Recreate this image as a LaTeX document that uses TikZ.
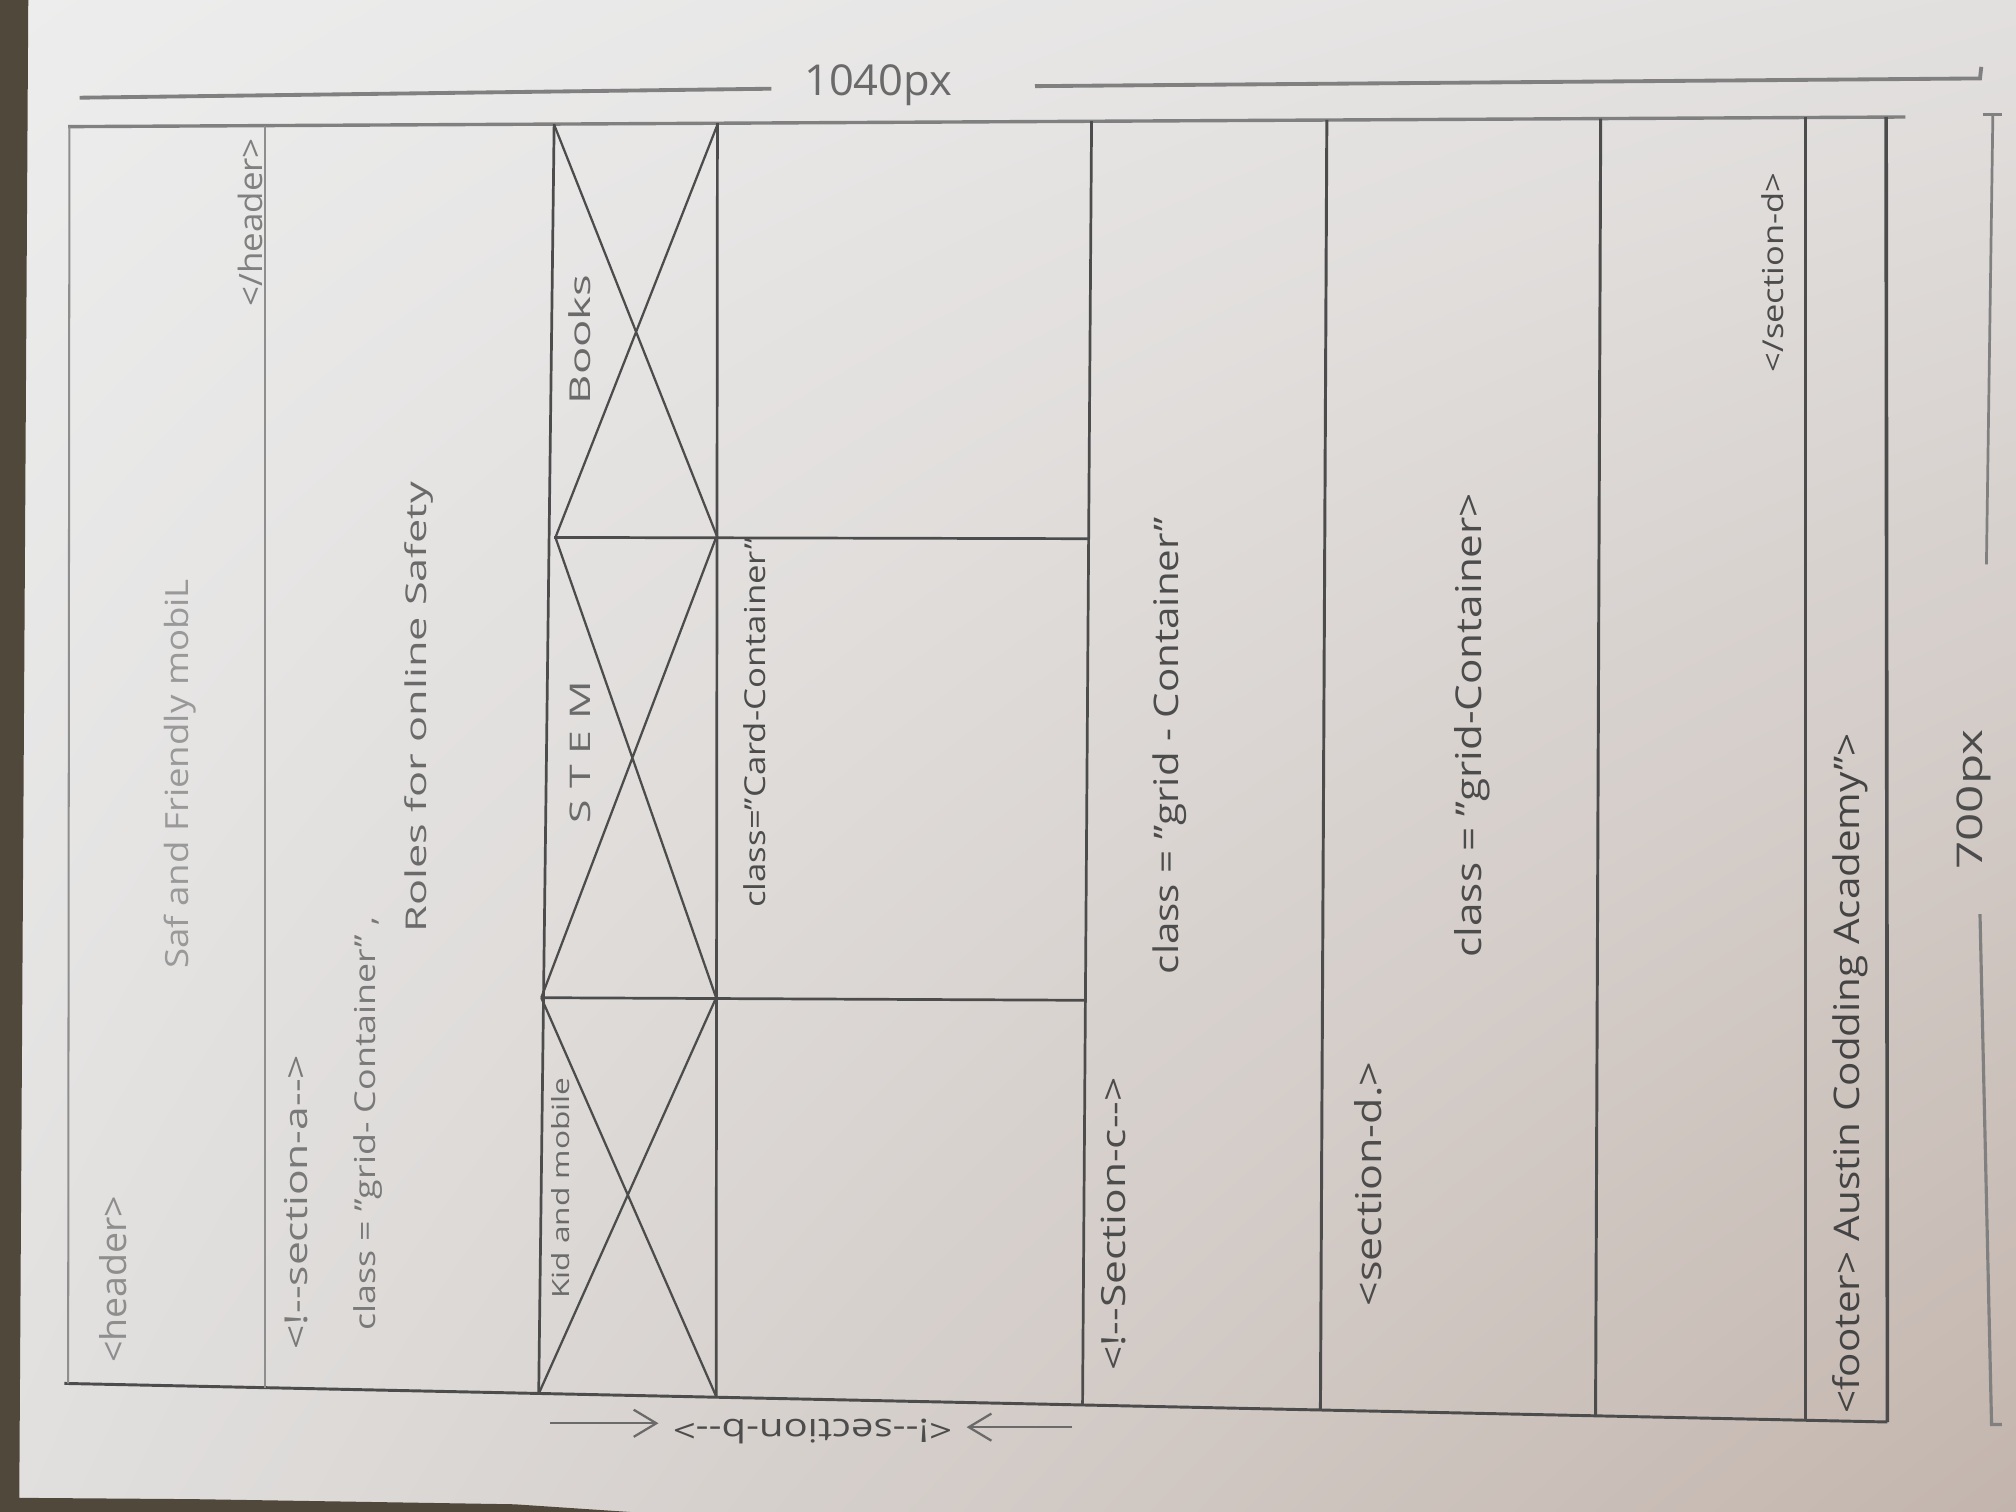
\documentclass[tikz,border=0pt]{standalone}
\usepackage{fontspec}
\setmainfont{Open Sans}
\usetikzlibrary{arrows.meta,shadings}

\definecolor{paperA}{HTML}{EDEDED}
\definecolor{paperB}{HTML}{E2E0DF}
\definecolor{paperC}{HTML}{E1E0DF}
\definecolor{paperD}{HTML}{C3B5AD}
\definecolor{tabletop}{HTML}{51483C}
\definecolor{pencilL}{HTML}{8E8E8E}
\definecolor{pencilM}{HTML}{6A6A6A}
\definecolor{pencilD}{HTML}{4C4C4C}

% hand lettering: width and height in cm
\newcommand\hw[3]{\resizebox{#1cm}{#2cm}{#3}}

\begin{document}
\begin{tikzpicture}[x=0.01cm,y=-0.01cm,
  thinline/.style={draw=pencilL,line width=0.45pt},
  cardline/.style={draw=pencilD,line width=0.6pt},
  boldline/.style={draw=pencilD,line width=0.65pt},
  dimline/.style={draw=pencilM!85!white,line width=0.85pt},
  note/.style={inner sep=0pt,rotate=90,text=pencilM},
  arr/.style={-{Straight Barb[length=5pt,width=6pt]},draw=pencilM,line width=0.5pt}]

\useasboundingbox (0,0) rectangle (1568,1176);

% paper and table
\shade[upper left=paperA,upper right=paperB,lower left=paperC,lower right=paperD]
  (0,0) rectangle (1568,1176);
\fill[tabletop] (0,0) -- (22,0) -- (15,1165) -- (150,1166) -- (400,1170)
  -- (490,1176) -- (0,1176) -- cycle;

% frame corners
\coordinate (tl) at (53,98.5);
\coordinate (tr) at (1482,91);
\coordinate (bl) at (50,1076);
\coordinate (br) at (1468,1106);

% outer top and bottom rules
\draw[dimline,line width=0.75pt] (tl) -- (tr);
\draw[boldline] (bl) -- (br);

% column rules
\draw[thinline] (54,98.5) -- (53,1076);
\draw[thinline] (206,97.7) -- (206,1079.3);
\draw[cardline] (431,96.5) -- (419,1083.8);
\draw[cardline] (558,95.8) -- (557,1086.7);
\draw[cardline] (849,94.3) -- (842,1092.8);
\draw[boldline] (1032,93.3) -- (1027,1096.7);
\draw[boldline] (1245,92.2) -- (1241,1101.3);
\draw[boldline] (1404,91.3) -- (1404,1104.8);
\draw[boldline,line width=0.8pt] (1467,91) -- (1468,1106.1);

% card rows
\draw[cardline] (431,418) -- (847,419);
\draw[cardline] (421,776) -- (844,778);

% image placeholders
\draw[cardline,line width=0.5pt] (431,97) -- (558,418) (558,97) -- (432,418);
\draw[cardline,line width=0.5pt] (432,418) -- (557,776) (557,418) -- (421,776);
\draw[cardline,line width=0.5pt] (421,776) -- (557,1086) (557,776) -- (419,1084);

% header
\node[note,text=pencilL] (hdrOpen) at (88,995) {\hw{1.30}{0.21}{<header>}};
\node[note,text=pencilL!90!white] (hdrTitle) at (140,602) {\hw{3.03}{0.19}{Saf and Friendly mobiL}};
\node[note,text=pencilL!90!black] (hdrClose) at (195,173) {\hw{1.31}{0.19}{</header>}};

% section a
\node[note,text=pencilL!85!black] (secaOpen) at (230,935) {\hw{2.29}{0.18}{<!-{}-section-a-{}->}};
\node[note,text=pencilL!85!black] (secaClass) at (286,874) {\hw{3.22}{0.17}{class = "grid- Container" ,}};
\node[note] (secaTitle) at (326,550) {\hw{3.50}{0.17}{Roles for online Safety}};

% section b cards
\node[note] (cardKid) at (436,924) {\hw{1.72}{0.14}{Kid and mobile}};
\node[note] (cardStem) at (451,585) {\hw{1.11}{0.16}{S T E M}};
\node[note] (cardBooks) at (451,264) {\hw{1.01}{0.17}{Books}};
\node[note,text=pencilD] (cardClass) at (587,562) {\hw{2.88}{0.17}{class="Card-Container"}};

% section b label under the frame, written upside down
\node[inner sep=0pt,rotate=180,text=pencilD] (secbLabel) at (632,1113) {\hw{2.17}{0.19}{<!-{}-section-b-{}->}};
\coordinate (bArrL) at (428,1107);
\coordinate (bArrR) at (834,1110);
\draw[arr] (bArrL) -- ([xshift=-3pt]bArrL -| secbLabel.east);
\draw[arr] (bArrR) -- ([xshift=3pt]bArrR -| secbLabel.west);

% section c
\node[note,text=pencilD] (seccOpen) at (866,952) {\hw{2.28}{0.19}{<!-{}-Section-c-{}->}};
\node[note,text=pencilD] (seccClass) at (910,580) {\hw{3.55}{0.20}{class = "grid - Container"}};

% section d
\node[note,text=pencilD] (secdOpen) at (1064,921) {\hw{1.90}{0.21}{<section-d.>}};
\node[note,text=pencilD] (secdClass) at (1145,564) {\hw{3.61}{0.21}{class = "grid-Container>}};
\node[note,text=pencilD] (secdClose) at (1379,212) {\hw{1.55}{0.17}{</section-d>}};

% footer
\node[note,text=pencilD!90!black] (footer) at (1439,835) {\hw{5.29}{0.21}{<footer> Austin Codding Academy">}};

% width dimension
\node[inner sep=0pt,text=pencilM] (dimW) at (683,66) {\hw{1.15}{0.24}{1040px}};
\coordinate (dWa) at (62,76);
\coordinate (dWb) at (600,69);
\coordinate (dWc) at (805,67);
\coordinate (dWd) at (1540,61);
\coordinate (dWe) at (1541,52);
\draw[dimline] (dWa) -- (dWb);
\draw[dimline] (dWc) -- (dWd) -- (dWe);

% height dimension
\node[note,text=pencilD] (dimH) at (1535,622) {\hw{1.09}{0.20}{700px}};
\coordinate (dHa) at (1550,90);
\coordinate (dHb) at (1545,439);
\coordinate (dHc) at (1540,711);
\coordinate (dHd) at (1549,1108);
\draw[dimline,line width=0.6pt] (1542,89) -- (1557,89);
\draw[dimline,line width=0.6pt] (dHa) -- (dHb);
\draw[dimline,line width=0.7pt] (dHc) -- (dHd) -- (1557,1108);

\end{tikzpicture}
\end{document}
